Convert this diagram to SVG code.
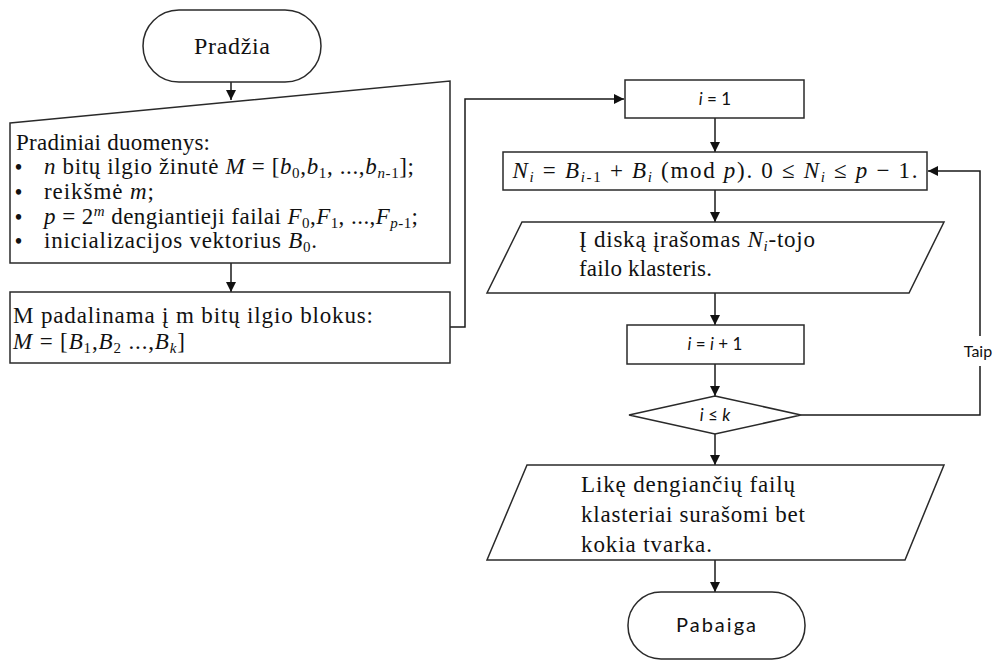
<svg xmlns="http://www.w3.org/2000/svg" width="997" height="661" viewBox="0 0 997 661">
  <style>
    .shape { fill: #ffffff; stroke: #2a2a2a; stroke-width: 1.5; }
    .line { fill: none; stroke: #1a1a1a; stroke-width: 1.5; }
    .serif { font-family: "Liberation Serif", "Times New Roman", serif; font-size: 23px; fill: #111; }
    .sans { font-family: Lato, "Open Sans", "Liberation Sans", sans-serif; font-size: 17px; fill: #111; }
    .bullet { font-family: "Liberation Serif", "Times New Roman", serif; font-size: 20px; font-weight: bold; fill: #111; }
    .it { font-style: italic; }
    .sub { font-size: 15px; }
  </style>
  <defs>
    <marker id="arrow" viewBox="0 0 10 10" refX="10" refY="5" markerWidth="10" markerHeight="10" markerUnits="userSpaceOnUse" orient="auto">
      <path d="M0,0 L10,5 L0,10 Z" fill="#111"/>
    </marker>
  </defs>

  <!-- connectors -->
  <g id="connectors">
    <path class="line" d="M231,82 V100" marker-end="url(#arrow)"/>
    <path class="line" d="M231,263 V292" marker-end="url(#arrow)"/>
    <path class="line" d="M450,327 H465 V99 H624" marker-end="url(#arrow)"/>
    <path class="line" d="M715,118 V152" marker-end="url(#arrow)"/>
    <path class="line" d="M715,190 V222" marker-end="url(#arrow)"/>
    <path class="line" d="M715,293 V325" marker-end="url(#arrow)"/>
    <path class="line" d="M715,364 V396" marker-end="url(#arrow)"/>
    <path class="line" d="M715,434 V465" marker-end="url(#arrow)"/>
    <path class="line" d="M715,560 V592" marker-end="url(#arrow)"/>
    <path class="line" d="M801,415 H980 V366"/>
    <path class="line" d="M980,336 V171 H928" marker-end="url(#arrow)"/>
    <text class="sans" x="978" y="357" text-anchor="middle" style="font-size:16px">Taip</text>
  </g>

  <!-- start terminator -->
  <g id="start">
    <rect class="shape" x="143" y="10" width="178" height="72" rx="36" ry="36"/>
    <text class="serif" x="232" y="54" text-anchor="middle" style="font-size:24px" textLength="76" lengthAdjust="spacing">Pradžia</text>
  </g>

  <!-- input data (manual input) -->
  <g id="input">
    <polygon class="shape" points="10,123 450,81 450,263 10,263"/>
    <text class="serif" x="16" y="150" textLength="194" lengthAdjust="spacing">Pradiniai duomenys:</text>
    <text class="bullet" x="15" y="174">•</text>
    <text class="serif" x="44" y="174" textLength="370" lengthAdjust="spacing"><tspan class="it">n</tspan> bitų ilgio žinutė <tspan class="it">M</tspan> = [<tspan class="it">b</tspan><tspan class="sub" dy="4">0</tspan><tspan dy="-4">,</tspan><tspan class="it">b</tspan><tspan class="sub" dy="4">1</tspan><tspan dy="-4">, ...,</tspan><tspan class="it">b</tspan><tspan class="sub it" dy="4">n</tspan><tspan class="sub">-1</tspan><tspan dy="-4">];</tspan></text>
    <text class="bullet" x="15" y="199">•</text>
    <text class="serif" x="44" y="199" textLength="110" lengthAdjust="spacing">reikšmė <tspan class="it">m</tspan>;</text>
    <text class="bullet" x="15" y="224">•</text>
    <text class="serif" x="44" y="224" textLength="374" lengthAdjust="spacing"><tspan class="it">p</tspan> = 2<tspan class="sub it" dy="-8">m</tspan><tspan dy="8"> dengiantieji failai </tspan><tspan class="it">F</tspan><tspan class="sub" dy="4">0</tspan><tspan dy="-4">,</tspan><tspan class="it">F</tspan><tspan class="sub" dy="4">1</tspan><tspan dy="-4">, ...,</tspan><tspan class="it">F</tspan><tspan class="sub it" dy="4">p</tspan><tspan class="sub">-1</tspan><tspan dy="-4">;</tspan></text>
    <text class="bullet" x="15" y="248">•</text>
    <text class="serif" x="44" y="248" textLength="273" lengthAdjust="spacing">inicializacijos vektorius <tspan class="it">B</tspan><tspan class="sub" dy="4">0</tspan><tspan dy="-4">.</tspan></text>
  </g>

  <!-- split into blocks -->
  <g id="split">
    <rect class="shape" x="10" y="292" width="440" height="71"/>
    <text class="serif" x="13" y="323" textLength="360" lengthAdjust="spacing">M padalinama į m bitų ilgio blokus:</text>
    <text class="serif" x="13" y="349" textLength="172" lengthAdjust="spacing"><tspan class="it">M</tspan> = [<tspan class="it">B</tspan><tspan class="sub" dy="4">1</tspan><tspan dy="-4">,</tspan><tspan class="it">B</tspan><tspan class="sub" dy="4">2</tspan><tspan dy="-4"> ...,</tspan><tspan class="it">B</tspan><tspan class="sub it" dy="4">k</tspan><tspan dy="-4">]</tspan></text>
  </g>

  <!-- i = 1 -->
  <g id="init">
    <rect class="shape" x="625" y="80" width="179" height="38"/>
    <text class="sans" x="715" y="105" text-anchor="middle"><tspan class="it">i</tspan> = 1</text>
  </g>

  <!-- N_i computation -->
  <g id="compute">
    <rect class="shape" x="503" y="152" width="424" height="38"/>
    <text class="serif" x="715" y="178" text-anchor="middle" textLength="405" lengthAdjust="spacing"><tspan class="it">N</tspan><tspan class="sub it" dy="4">i</tspan><tspan dy="-4"> = </tspan><tspan class="it">B</tspan><tspan class="sub it" dy="4">i</tspan><tspan class="sub">-1</tspan><tspan dy="-4"> + </tspan><tspan class="it">B</tspan><tspan class="sub it" dy="4">i</tspan><tspan dy="-4"> (mod </tspan><tspan class="it">p</tspan>). 0 ≤ <tspan class="it">N</tspan><tspan class="sub it" dy="4">i</tspan><tspan dy="-4"> ≤ </tspan><tspan class="it">p</tspan> − 1.</text>
  </g>

  <!-- write cluster -->
  <g id="write">
    <polygon class="shape" points="522,222 944,222 909,293 487,293"/>
    <text class="serif" x="579" y="247" textLength="236" lengthAdjust="spacing">Į diską įrašomas <tspan class="it">N</tspan><tspan class="sub it" dy="4">i</tspan><tspan dy="-4">-tojo</tspan></text>
    <text class="serif" x="579" y="276" textLength="133" lengthAdjust="spacing">failo klasteris.</text>
  </g>

  <!-- i = i + 1 -->
  <g id="increment">
    <rect class="shape" x="627" y="325" width="177" height="39"/>
    <text class="sans" x="715" y="350" text-anchor="middle"><tspan class="it">i</tspan> = <tspan class="it">i</tspan> + 1</text>
  </g>

  <!-- decision -->
  <g id="decision">
    <polygon class="shape" points="715,396 801,415 715,434 629,415"/>
    <text class="sans" x="715" y="421" text-anchor="middle"><tspan class="it">i</tspan> ≤ <tspan class="it">k</tspan></text>
  </g>

  <!-- remaining clusters -->
  <g id="rest">
    <polygon class="shape" points="527,465 944,465 905,560 487,560"/>
    <text class="serif" x="581" y="492" textLength="214" lengthAdjust="spacing">Likę dengiančių failų</text>
    <text class="serif" x="581" y="522" textLength="224" lengthAdjust="spacing">klasteriai surašomi bet</text>
    <text class="serif" x="581" y="552" textLength="131" lengthAdjust="spacing">kokia tvarka.</text>
  </g>

  <!-- end terminator -->
  <g id="end">
    <rect class="shape" x="628" y="592" width="177" height="67" rx="33" ry="33"/>
    <text class="sans" x="716" y="632" text-anchor="middle" style="font-size:20px" textLength="80" lengthAdjust="spacing">Pabaiga</text>
  </g>
</svg>
